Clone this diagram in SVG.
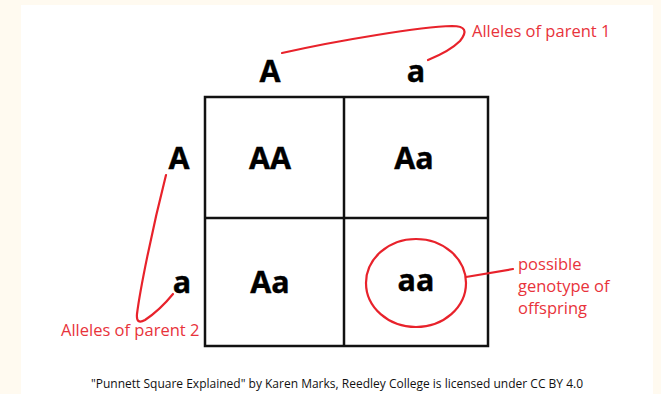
<svg xmlns="http://www.w3.org/2000/svg" width="661" height="394" viewBox="0 0 661 394">
<style>
.lbl{font-family:"Open Sans","Liberation Sans",sans-serif;font-weight:bold;font-size:30.5px;fill:#000;text-anchor:middle;stroke:#000;stroke-width:0.4}
.note{font-family:"Open Sans","Liberation Sans",sans-serif;font-size:16.5px;fill:#e8333b}
.red{fill:none;stroke:#e8222b;stroke-width:2.2;stroke-linecap:round}
.grid{fill:none;stroke:#111;stroke-width:2.5}
.foot{font-family:"Open Sans","Liberation Sans",sans-serif;font-size:12px;fill:#111;text-anchor:middle}
</style>
<rect width="661" height="394" fill="#fffaf0"/>
<rect x="21" y="5" width="632" height="389" fill="#fff"/>
<g id="grid">
<rect class="grid" x="205" y="97" width="283" height="249"/>
<line class="grid" x1="344" y1="97" x2="344" y2="346"/>
<line class="grid" x1="205" y1="218" x2="488" y2="218"/>
</g>
<g id="parent1-A"><text class="lbl" x="270" y="82">A</text></g>
<g id="parent1-a"><text class="lbl" x="416" y="82">a</text></g>
<g id="parent2-A"><text class="lbl" x="179" y="169">A</text></g>
<g id="parent2-a"><text class="lbl" x="182" y="293">a</text></g>
<g id="cell-AA"><text class="lbl" x="270" y="169">AA</text></g>
<g id="cell-Aa1"><text class="lbl" x="414" y="169">Aa</text></g>
<g id="cell-Aa2"><text class="lbl" x="270" y="293">Aa</text></g>
<g id="cell-aa">
<ellipse class="red" cx="416" cy="283" rx="50" ry="44"/>
<text class="lbl" x="416" y="291">aa</text>
</g>
<g id="connectors">
<path class="red" d="M282,53 C340,40 420,27 452,26 Q472,26 460,41 Q450,51 428,60"/>
<path class="red" d="M166,175 C152,230 140,290 137,314 Q136,325 145,320 Q160,310 173,294"/>
<line class="red" x1="466" y1="277" x2="513" y2="269"/>
</g>
<g id="label-parent1"><text class="note" x="472" y="37">Alleles of parent 1</text></g>
<g id="label-parent2"><text class="note" x="61" y="336">Alleles of parent 2</text></g>
<g id="label-offspring">
<text class="note" x="518" y="270">possible</text>
<text class="note" x="518" y="292">genotype of</text>
<text class="note" x="518" y="314">offspring</text>
</g>
<text class="foot" x="337" y="388">"Punnett Square Explained" by Karen Marks, Reedley College is licensed under CC BY 4.0</text>
</svg>
